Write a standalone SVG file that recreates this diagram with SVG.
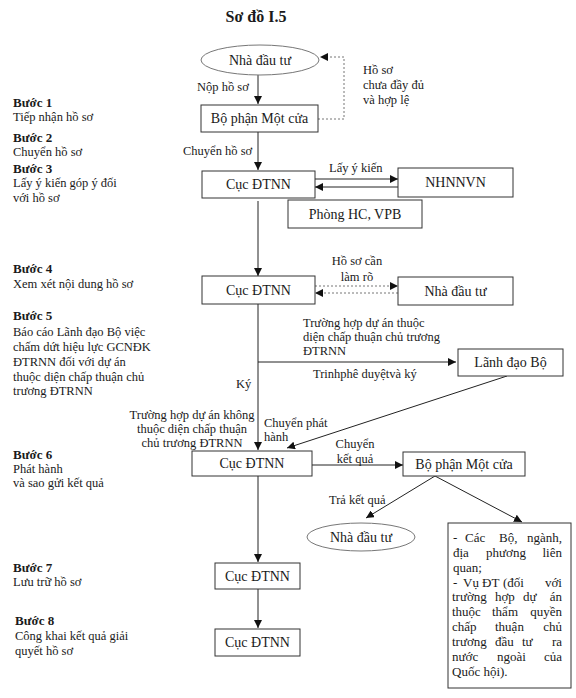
<svg xmlns="http://www.w3.org/2000/svg" width="576" height="698" viewBox="0 0 576 698">
<style>
text{font-family:"Liberation Serif","Times New Roman",serif;fill:#1a1a1a}
.t{font-size:16px;font-weight:bold}
.b{font-size:13px;font-weight:bold}
.s{font-size:12.5px}
.n{font-size:14px;text-anchor:middle}
.l{font-size:12.5px}
.bx{fill:#fff;stroke:#333;stroke-width:1}
.el{fill:#fff;stroke:#777;stroke-width:1}
.c{fill:none;stroke:#222;stroke-width:1}
.d{fill:none;stroke:#777;stroke-width:1;stroke-dasharray:2,2}
.j{font-size:13px}
.e{font-size:13px;text-anchor:end}
</style>
<defs>
<marker id="a" viewBox="0 0 10 10" refX="10" refY="5" markerWidth="8" markerHeight="8" markerUnits="userSpaceOnUse" orient="auto"><path d="M0,0 L10,5 L0,10 z" fill="#111"/></marker>
</defs>
<rect width="576" height="698" fill="#fff"/>
<text class="t" x="256" y="22" text-anchor="middle">Sơ đồ I.5</text>

<g id="steps">
<text class="b" x="13" y="107">Bước 1</text>
<text class="s" x="13" y="121">Tiếp nhận hồ sơ</text>
<text class="b" x="13" y="142">Bước 2</text>
<text class="s" x="13" y="156">Chuyển hồ sơ</text>
<text class="b" x="13" y="173">Bước 3</text>
<text class="s" x="13" y="187">Lấy ý kiến góp ý đối</text>
<text class="s" x="13" y="202">với hồ sơ</text>
<text class="b" x="13" y="273">Bước 4</text>
<text class="s" x="13" y="288">Xem xét nội dung hồ sơ</text>
<text class="b" x="13" y="320">Bước 5</text>
<text class="s" x="13" y="336">Báo cáo Lãnh đạo Bộ việc</text>
<text class="s" x="13" y="351">chấm dứt hiệu lực GCNĐK</text>
<text class="s" x="13" y="366">ĐTRNN đối với dự án</text>
<text class="s" x="13" y="381">thuộc diện chấp thuận chủ</text>
<text class="s" x="13" y="395">trương ĐTRNN</text>
<text class="b" x="13" y="459">Bước 6</text>
<text class="s" x="13" y="473">Phát hành</text>
<text class="s" x="13" y="487">và sao gửi kết quả</text>
<text class="b" x="13" y="572">Bước 7</text>
<text class="s" x="13" y="586">Lưu trữ hồ sơ</text>
<text class="b" x="15" y="625">Bước 8</text>
<text class="s" x="15" y="640">Công khai kết quả giải</text>
<text class="s" x="15" y="655">quyết hồ sơ</text>
</g>

<g id="connectors">
<line class="c" x1="258" y1="75" x2="258" y2="104" marker-end="url(#a)"/>
<path class="d" d="M318,119 H344 V57 H320" marker-end="url(#a)"/>
<line class="c" x1="258" y1="132" x2="258" y2="170" marker-end="url(#a)"/>
<line class="c" x1="315" y1="179" x2="398" y2="179" marker-end="url(#a)"/>
<line class="c" x1="398" y1="187" x2="315" y2="187" marker-end="url(#a)"/>
<line class="c" x1="258" y1="201" x2="258" y2="276" marker-end="url(#a)"/>
<line class="d" x1="315" y1="286" x2="398" y2="286" marker-end="url(#a)"/>
<line class="d" x1="398" y1="293" x2="315" y2="293" marker-end="url(#a)"/>
<line class="c" x1="258" y1="304" x2="258" y2="450" marker-end="url(#a)"/>
<line class="c" x1="258" y1="362" x2="456" y2="362" marker-end="url(#a)"/>
<line class="c" x1="507" y1="376" x2="287" y2="448" marker-end="url(#a)"/>
<line class="c" x1="312" y1="465" x2="403" y2="465" marker-end="url(#a)"/>
<line class="c" x1="435" y1="476" x2="366" y2="518" marker-end="url(#a)"/>
<line class="c" x1="435" y1="476" x2="522" y2="522" marker-end="url(#a)"/>
<line class="c" x1="258" y1="476" x2="258" y2="562" marker-end="url(#a)"/>
<line class="c" x1="258" y1="589" x2="258" y2="628" marker-end="url(#a)"/>
<text class="l" x="197" y="91">Nộp hồ sơ</text>
<text class="l" x="363" y="74">Hồ sơ</text>
<text class="l" x="363" y="89">chưa đầy đủ</text>
<text class="l" x="363" y="104">và hợp lệ</text>
<text class="l" x="183" y="155">Chuyển hồ sơ</text>
<text class="l" x="329" y="172">Lấy ý kiến</text>
<text class="l" x="357" y="265" text-anchor="middle">Hồ sơ cần</text>
<text class="l" x="357" y="281" text-anchor="middle">làm rõ</text>
<text class="l" x="303" y="327">Trường hợp dự án thuộc</text>
<text class="l" x="303" y="341">diện chấp thuận chủ trương</text>
<text class="l" x="303" y="355">ĐTRNN</text>
<text class="l" x="313" y="378">Trinhphê duyệtvà ký</text>
<text class="l" x="236" y="388">Ký</text>
<text class="l" x="192" y="419" text-anchor="middle">Trường hợp dự án không</text>
<text class="l" x="192" y="433" text-anchor="middle">thuộc diện chấp thuận</text>
<text class="l" x="192" y="447" text-anchor="middle">chủ trương ĐTRNN</text>
<text class="l" x="264" y="427">Chuyển phát</text>
<text class="l" x="264" y="441">hành</text>
<text class="l" x="355" y="448" text-anchor="middle">Chuyển</text>
<text class="l" x="355" y="463" text-anchor="middle">kết quả</text>
<text class="l" x="329" y="504">Trả kết quả</text>
</g>

<g id="n_investor1"><ellipse class="el" cx="260" cy="60" rx="59" ry="15"/><text class="n" x="260" y="65">Nhà đầu tư</text></g>
<g id="n_onestop1"><rect class="bx" x="201" y="105" width="117" height="27"/><text class="n" x="259.5" y="123">Bộ phận Một cửa</text></g>
<g id="n_cuc1"><rect class="bx" x="202" y="171" width="113" height="27"/><text class="n" x="258.5" y="189">Cục ĐTNN</text></g>
<g id="n_nhnn"><rect class="bx" x="398" y="168" width="115" height="29"/><text class="n" x="455.5" y="187">NHNNVN</text></g>
<g id="n_phong"><rect class="bx" x="288" y="200" width="134" height="28"/><text class="n" x="355" y="219">Phòng HC, VPB</text></g>
<g id="n_cuc2"><rect class="bx" x="202" y="276" width="113" height="28"/><text class="n" x="258.5" y="295">Cục ĐTNN</text></g>
<g id="n_investor2"><rect class="bx" x="398" y="277" width="115" height="28"/><text class="n" x="455.5" y="296">Nhà đầu tư</text></g>
<g id="n_lanhdao"><rect class="bx" x="458" y="349" width="105" height="27"/><text class="n" x="510.5" y="367">Lãnh đạo Bộ</text></g>
<g id="n_cuc3"><rect class="bx" x="192" y="451" width="120" height="25"/><text class="n" x="252" y="468">Cục ĐTNN</text></g>
<g id="n_onestop2"><rect class="bx" x="403" y="452" width="122" height="24"/><text class="n" x="464" y="469">Bộ phận Một cửa</text></g>
<g id="n_investor3"><ellipse class="el" cx="361" cy="537" rx="54" ry="14"/><text class="n" x="361" y="542">Nhà đầu tư</text></g>
<g id="n_recipients"><rect class="bx" x="448" y="523" width="123" height="165"/>
<text class="j" y="542"><tspan x="453">-</tspan><tspan x="465">Các</tspan><tspan x="499">Bộ,</tspan></text><text class="e" x="562" y="542">ngành,</text>
<text class="j" y="557"><tspan x="453">địa</tspan><tspan x="486">phương</tspan></text><text class="e" x="562" y="557">liên</text>
<text class="j" x="453" y="572">quan;</text>
<text class="j" y="587"><tspan x="453">-</tspan><tspan x="463">Vụ</tspan><tspan x="482">ĐT</tspan><tspan x="503">(đối</tspan></text><text class="e" x="562" y="587">với</text>
<text class="j" y="601"><tspan x="452">trường</tspan><tspan x="495">hợp</tspan><tspan x="523">dự</tspan></text><text class="e" x="562" y="601">án</text>
<text class="j" y="616"><tspan x="452">thuộc</tspan><tspan x="492">thẩm</tspan></text><text class="e" x="562" y="616">quyền</text>
<text class="j" y="631"><tspan x="452">chấp</tspan><tspan x="495">thuận</tspan></text><text class="e" x="562" y="631">chủ</text>
<text class="j" y="646"><tspan x="452">trương</tspan><tspan x="495">đầu</tspan><tspan x="522">tư</tspan></text><text class="e" x="562" y="646">ra</text>
<text class="j" y="661"><tspan x="452">nước</tspan><tspan x="497">ngoài</tspan></text><text class="e" x="562" y="661">của</text>
<text class="j" x="452" y="676">Quốc hội).</text>
</g>
<g id="n_cuc4"><rect class="bx" x="215" y="563" width="85" height="26"/><text class="n" x="257.5" y="581">Cục ĐTNN</text></g>
<g id="n_cuc5"><rect class="bx" x="215" y="629" width="85" height="27"/><text class="n" x="257.5" y="647">Cục ĐTNN</text></g>
</svg>
